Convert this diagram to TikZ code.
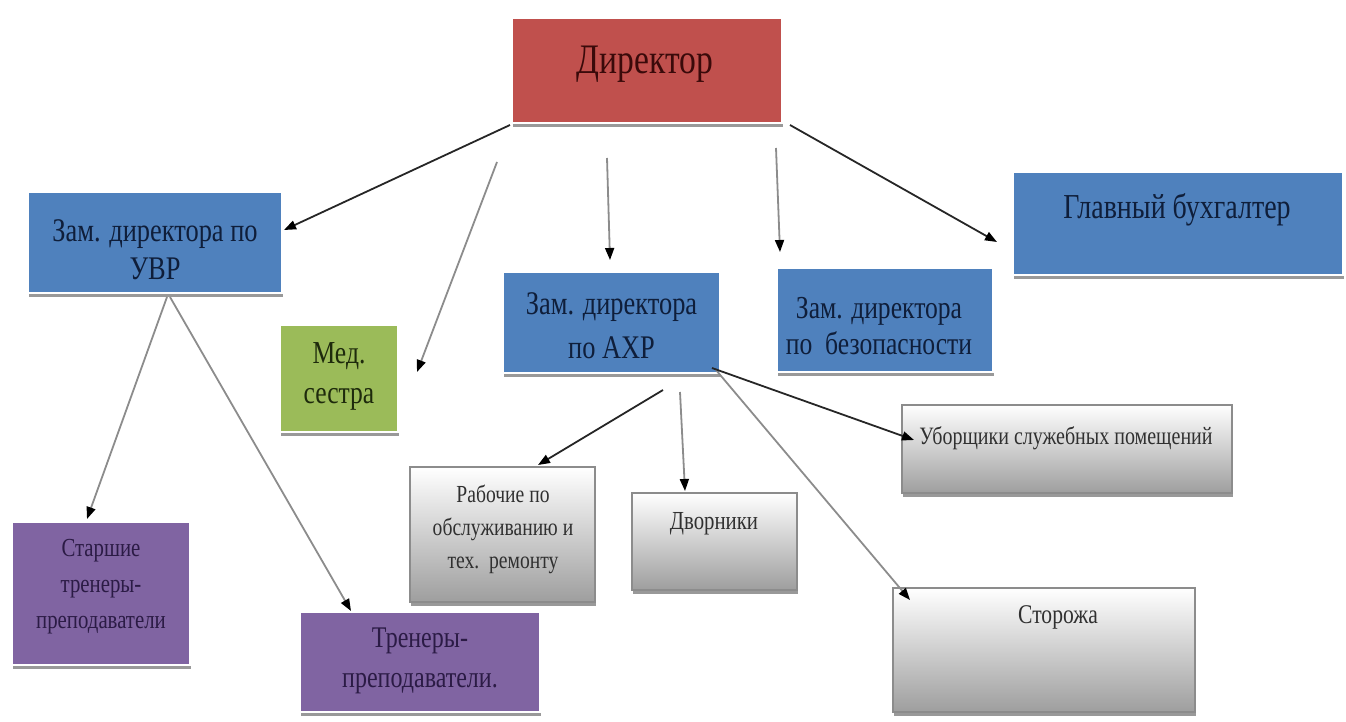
\documentclass[tikz,border=0pt]{standalone}
\usepackage{fontspec}
\usepackage{graphicx}
\setmainfont{Liberation Serif}
\usetikzlibrary{arrows.meta,shadows}
\newcommand\hsqz[1]{\scalebox{0.8}[1]{#1}}
\definecolor{cred}{HTML}{C0504D}
\definecolor{cblue}{HTML}{4F81BD}
\definecolor{cgreen}{HTML}{9BBB59}
\definecolor{cpurple}{HTML}{8064A2}
\definecolor{tred}{HTML}{3A0A0A}
\definecolor{tblue}{HTML}{0F1E3A}
\definecolor{tgreen}{HTML}{1E2A0C}
\definecolor{tpurple}{HTML}{2B1B45}
\definecolor{tgray}{HTML}{303030}
\begin{document}
\begin{tikzpicture}[x=1pt,y=-1pt,
  boxbase/.style={rectangle,inner sep=0pt,
    drop shadow={shadow xshift=1pt,shadow yshift=-4pt,fill=black!40,opacity=1}},
  colbox/.style={boxbase,draw=white,line width=2.5pt,fill=#1},
  gradbox/.style={boxbase,draw=black!45,line width=1.2pt,top color=white,bottom color=black!38},
  txt/.style args={#1/#2}{align=center,inner sep=0pt,font=\fontsize{#1}{#2}\selectfont},
  conn/.style={draw=black!45,line width=1.8pt,-{Triangle[length=12pt,width=9pt,black]}},
  darkconn/.style={conn,draw=black!85}]
\useasboundingbox (0,0) rectangle (1346,722);
% boxes
\node[colbox=cred,minimum width=270pt,minimum height=105pt] (dir) at (647,70.5) {};
\node[colbox=cblue,minimum width=254pt,minimum height=101pt] (uvr) at (155,242.5) {};
\node[colbox=cgreen,minimum width=118pt,minimum height=107pt] (med) at (339,378.5) {};
\node[colbox=cblue,minimum width=217pt,minimum height=101pt] (axr) at (611.5,322.5) {};
\node[colbox=cblue,minimum width=216pt,minimum height=104pt] (bez) at (885,320) {};
\node[colbox=cblue,minimum width=330pt,minimum height=103pt] (glav) at (1178,223.5) {};
\node[gradbox,minimum width=330pt,minimum height=88pt] (ubor) at (1067,449) {};
\node[gradbox,minimum width=185pt,minimum height=135pt] (rab) at (502.5,534.5) {};
\node[gradbox,minimum width=165pt,minimum height=97pt] (dvor) at (714.5,541.5) {};
\node[gradbox,minimum width=302pt,minimum height=124pt] (stor) at (1044,650) {};
\node[colbox=cpurple,minimum width=178pt,minimum height=143pt] (star) at (101,593.5) {};
\node[colbox=cpurple,minimum width=240pt,minimum height=100pt] (tren) at (420,662) {};
% texts
\node[txt=42/42,text=tred] (tdir) at (645,64) {\hsqz{Директор}};
\node[txt=33/38,text=tblue] (tuvr) at (155,250) {\hsqz{Зам. директора по}\\\hsqz{УВР}};
\node[txt=32/40,text=tgreen] (tmed) at (339,376) {\hsqz{Мед.}\\\hsqz{сестра}};
\node[txt=33/44,text=tblue] (taxr) at (611.5,326) {\hsqz{Зам. директора}\\\hsqz{по АХР}};
\node[txt=32/36,text=tblue] (tbez) at (879,326) {\hsqz{Зам. директора}\\\hsqz{по\ \ безопасности}};
\node[txt=35/35,text=tblue] (tglav) at (1177,210) {\hsqz{Главный бухгалтер}};
\node[txt=25/25,text=tgray] (tubor) at (1066,438) {\hsqz{Уборщики служебных помещений}};
\node[txt=24.5/33,text=tgray] (trab) at (503,529) {\hsqz{Рабочие по}\\\hsqz{обслуживанию и}\\\hsqz{тех.\ \ ремонту}};
\node[txt=26/26,text=tgray] (tdvor) at (714,524) {\hsqz{Дворники}};
\node[txt=27/27,text=tgray] (tstor) at (1058,617) {\hsqz{Сторожа}};
\node[txt=26/36,text=tpurple] (tstar) at (101,587) {\hsqz{Старшие}\\\hsqz{тренеры-}\\\hsqz{преподаватели}};
\node[txt=30/40,text=tpurple] (ttren) at (420,661) {\hsqz{Тренеры-}\\\hsqz{преподаватели.}};
% connector end points
\coordinate (s1) at (510,125); \coordinate (e1) at (284,230);
\coordinate (s2) at (497,162); \coordinate (e2) at (417,372);
\coordinate (s3) at (607,158); \coordinate (e3) at (610,260);
\coordinate (s4) at (776,148); \coordinate (e4) at (780,252);
\coordinate (s5) at (790,125); \coordinate (e5) at (997,242);
\coordinate (s6) at (167,297); \coordinate (e6) at (87,519);
\coordinate (s7) at (170,297); \coordinate (e7) at (351,611);
\coordinate (s8) at (663,390); \coordinate (e8) at (538,465);
\coordinate (s9) at (680,392); \coordinate (e9) at (685,491);
\coordinate (s10) at (712,368); \coordinate (e10) at (914,440);
\coordinate (s11) at (716,370); \coordinate (e11) at (910,600);
\foreach \i in {2,3,4,6,7,9,11} {\draw[conn] (s\i) -- (e\i);}
\foreach \i in {1,5,8,10} {\draw[darkconn] (s\i) -- (e\i);}
\end{tikzpicture}
\end{document}
